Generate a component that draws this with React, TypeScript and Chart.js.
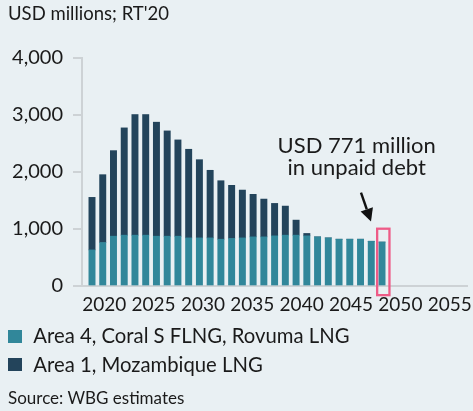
import React, { useEffect, useRef } from "react";
import { Chart, registerables } from "chart.js";

Chart.register(...registerables);

// ---- data ----
const years = [
  2019, 2020, 2021, 2022, 2023, 2024, 2025, 2026, 2027, 2028, 2029, 2030, 2031, 2032,
  2033, 2034, 2035, 2036, 2037, 2038, 2039, 2040, 2041, 2042, 2043, 2044, 2045, 2046,
];
const area4 = [
  633, 763, 874, 892, 892, 892, 874, 874, 874, 844, 844, 844, 821, 834,
  844, 862, 862, 880, 892, 892, 880, 862, 844, 821, 821, 821, 785, 771,
];
const area1 = [
  922, 1190, 1501, 1882, 2116, 2116, 2000, 1847, 1689, 1555, 1372, 1186, 1026, 932,
  839, 746, 663, 569, 510, 264, 42, 0, 0, 0, 0, 0, 0, 0,
];
const xTickYears = [2020, 2025, 2030, 2035, 2040, 2045, 2050, 2055];
const yTickValues = [0, 1000, 2000, 3000, 4000];
const seriesNames = ["Area 4, Coral S FLNG, Rovuma LNG", "Area 1, Mozambique LNG"];
const annotationLines = ["USD 771 million", "in unpaid debt"];
const highlightYear = 2046;
const titleText = "USD millions; RT'20";
const sourceText = "Source: WBG estimates";

// ---- styles ----
const BG = "#E9F0F3";
const LIGHT = "#31879A";
const DARK = "#23445B";
const AXIS = "#CDD2D5";
const TEXT = "#1A1A1A";
const PINK = "#EE5B87";
const FONT = "Lato";

const annotationPlugin = {
  id: "unpaidDebt",
  afterDatasetsDraw(chart: any) {
    const { ctx } = chart;
    const xs = chart.scales.x;
    const ys = chart.scales.y;
    const i = years.indexOf(highlightYear);
    const total = area4[i] + area1[i];
    const cx = xs.getPixelForValue(highlightYear) + 1.3;
    const barTop = ys.getPixelForValue(total);
    const base = ys.getPixelForValue(0);
    const bx0 = cx - 7.3;
    const bx1 = cx + 7.3;
    const by0 = barTop - 14.5;
    const by1 = base + 10.3;
    ctx.save();
    // box
    ctx.strokeStyle = PINK;
    ctx.lineWidth = 2.3;
    ctx.strokeRect(bx0 + 1.15, by0 + 1.15, bx1 - bx0 - 2.3, by1 - by0 - 2.3);
    // arrow
    const sx = bx0 - 15, sy = by0 - 35;
    const tx = bx0 - 5, ty = by0 - 6;
    const ang = Math.atan2(ty - sy, tx - sx);
    const hl = 13, hw = 6.5;
    const hx = tx - hl * Math.cos(ang), hy = ty - hl * Math.sin(ang);
    ctx.strokeStyle = "#111";
    ctx.lineWidth = 2.4;
    ctx.beginPath();
    ctx.moveTo(sx, sy);
    ctx.lineTo(hx, hy);
    ctx.stroke();
    ctx.fillStyle = "#111";
    ctx.beginPath();
    ctx.moveTo(tx, ty);
    ctx.lineTo(hx + hw * Math.sin(ang), hy - hw * Math.cos(ang));
    ctx.lineTo(hx - hw * Math.sin(ang), hy + hw * Math.cos(ang));
    ctx.closePath();
    ctx.fill();
    // text
    ctx.fillStyle = TEXT;
    ctx.font = `22px ${FONT}`;
    ctx.textAlign = "center";
    ctx.textBaseline = "alphabetic";
    const tcx = cx - 26.6;
    ctx.fillText(annotationLines[0], tcx, by0 - 74.3);
    ctx.fillText(annotationLines[1], tcx, by0 - 52.7);
    ctx.restore();
  },
};

function ChartCanvas() {
  const ref = useRef<HTMLCanvasElement | null>(null);
  useEffect(() => {
    if (!ref.current) return;
    const chart = new Chart(ref.current, {
      type: "bar",
      data: {
        datasets: [
          {
            label: seriesNames[0],
            data: years.map((y, k) => ({ x: y, y: area4[k] })),
            backgroundColor: LIGHT,
            barThickness: 6.3,
            xAxisID: "x",
            yAxisID: "y",
          },
          {
            label: seriesNames[1],
            data: years.map((y, k) => ({ x: y, y: area1[k] })),
            backgroundColor: DARK,
            barThickness: 6.3,
            xAxisID: "x",
            yAxisID: "y",
          },
        ],
      },
      options: {
        animation: false,
        responsive: false,
        maintainAspectRatio: false,
        layout: { padding: { top: 58, bottom: 95, left: 0, right: 6 } },
        plugins: { legend: { display: false }, tooltip: { enabled: false } },
        scales: {
          x: {
            type: "linear",
            display: false,
            stacked: true,
            offset: false,
            grid: { offset: false },
            min: 2018.069,
            max: 2053.913,
          },
          xl: {
            type: "linear",
            position: "bottom",
            offset: false,
            min: 2017.751,
            max: 2056.75,
            afterBuildTicks: (s: any) => {
              s.ticks = xTickYears.map((v) => ({ value: v }));
            },
            afterFit: (s: any) => {
              s.height = 30;
              s.paddingLeft = 0;
              s.paddingRight = 0;
            },
            ticks: {
              autoSkip: false,
              maxRotation: 0,
              padding: 7,
              color: TEXT,
              font: { family: FONT, size: 19 },
              callback: (v: any) => String(v),
            },
            grid: { drawOnChartArea: false, drawTicks: false, offset: false },
            border: { color: AXIS, width: 2 },
          },
          y: {
            type: "linear",
            stacked: true,
            min: 0,
            max: 4000,
            afterBuildTicks: (s: any) => {
              s.ticks = yTickValues.map((v) => ({ value: v }));
            },
            afterFit: (s: any) => {
              s.width = 82;
            },
            ticks: {
              padding: 10,
              color: TEXT,
              font: { family: FONT, size: 20 },
              callback: (v: any) => Number(v).toLocaleString("en-US"),
            },
            grid: {
              drawOnChartArea: false,
              drawTicks: true,
              tickLength: 9,
              color: AXIS,
              lineWidth: 2,
            },
            border: { color: AXIS, width: 2 },
          },
        },
      } as any,
      plugins: [annotationPlugin],
    });
    return () => chart.destroy();
  }, []);
  return (
    <canvas
      ref={ref}
      width={473}
      height={411}
      style={{ position: "absolute", left: 0, top: 0, width: 473, height: 411 }}
    />
  );
}

export default function App() {
  const textStyle: React.CSSProperties = {
    position: "absolute",
    fontFamily: FONT,
    color: TEXT,
    whiteSpace: "nowrap",
  };
  const colors = [LIGHT, DARK];
  const legendTops = [325.3, 353.7];
  const squareTops = [330, 358.3];
  return (
    <div
      style={{
        position: "fixed",
        left: 0,
        top: 0,
        width: 473,
        height: 411,
        background: BG,
        overflow: "hidden",
      }}
    >
      <ChartCanvas />
      <div style={{ ...textStyle, left: 8, top: 4.3, fontSize: 18.5, lineHeight: "18.5px" }}>
        {titleText}
      </div>
      {seriesNames.map((name, k) => (
        <React.Fragment key={name}>
          <div
            style={{
              position: "absolute",
              left: 8.3,
              top: squareTops[k],
              width: 13.4,
              height: 13,
              background: colors[k],
            }}
          />
          <div
            style={{
              ...textStyle,
              left: 33.3,
              top: legendTops[k],
              fontSize: 20.3,
              lineHeight: "20.3px",
            }}
          >
            {name}
          </div>
        </React.Fragment>
      ))}
      <div style={{ ...textStyle, left: 8, top: 388.9, fontSize: 17, lineHeight: "17px" }}>
        {sourceText}
      </div>
    </div>
  );
}
